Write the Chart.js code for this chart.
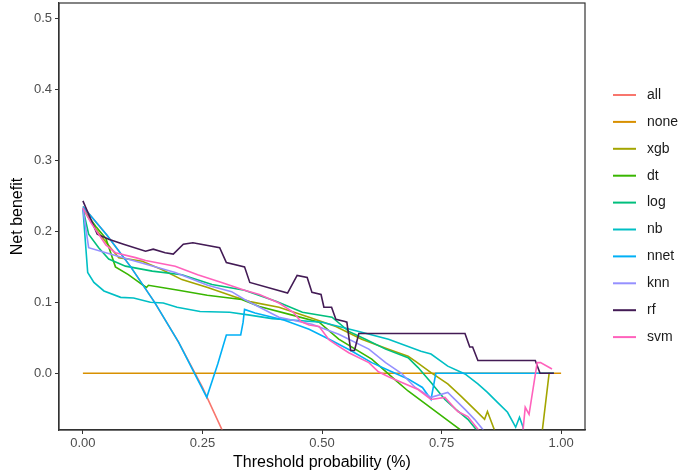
<!DOCTYPE html>
<html>
<head>
<meta charset="utf-8">
<script src="https://cdn.jsdelivr.net/npm/chart.js@4.4.1/dist/chart.umd.min.js"></script>
<style>
body{margin:0;background:#fff;}
canvas{display:block;}
</style>
</head>
<body>
<canvas id="dca" width="686" height="476"></canvas>
<script>

// series names and colours
const models = ["all","none","xgb","dt","log","nb","nnet","knn","rf","svm"];
const colors = ["#F8766D","#D89000","#A3A500","#39B600","#00BF7D","#00BFC4","#00B0F6","#9590FF","#431B55","#FF62BC"];

// tick labels
const xTicks = [0,0.25,0.5,0.75,1];
const yTicks = [0,0.1,0.2,0.3,0.4,0.5];

// [threshold, net benefit]
const all = [[0,0.235],[0.05,0.195],[0.1,0.15],[0.15,0.1],[0.2,0.044],[0.25,-0.02],[0.3,-0.093]];
const none = [[0,0],[1,0]];
const xgb = [[0,0.232],[0.027,0.203],[0.048,0.185],[0.075,0.163],[0.124,0.158],[0.166,0.146],[0.207,0.132],[0.261,0.121],[0.317,0.108],[0.349,0.101],[0.41,0.093],[0.473,0.079],[0.529,0.066],[0.583,0.048],[0.639,0.034],[0.68,0.024],[0.695,0.017],[0.728,0.001],[0.763,-0.015],[0.79,-0.032],[0.819,-0.051],[0.84,-0.065],[0.846,-0.054],[0.86,-0.079],[0.87,-0.1],[0.955,-0.1],[0.961,-0.079],[0.975,0],[0.985,0]];
const dt = [[0,0.232],[0.027,0.207],[0.048,0.19],[0.068,0.15],[0.095,0.139],[0.124,0.125],[0.133,0.121],[0.137,0.124],[0.2,0.117],[0.26,0.11],[0.332,0.104],[0.369,0.094],[0.432,0.083],[0.494,0.072],[0.535,0.048],[0.604,0.02],[0.656,-0.011],[0.68,-0.025],[0.72,-0.045],[0.76,-0.065],[0.79,-0.08],[0.8,-0.1]];
const log = [[0,0.232],[0.012,0.196],[0.033,0.177],[0.054,0.161],[0.089,0.151],[0.145,0.144],[0.207,0.139],[0.27,0.125],[0.338,0.117],[0.405,0.101],[0.459,0.086],[0.521,0.079],[0.556,0.059],[0.591,0.048],[0.633,0.034],[0.68,0.022],[0.701,0.008],[0.728,-0.013],[0.757,-0.037],[0.78,-0.051],[0.805,-0.065],[0.822,-0.079],[0.84,-0.1]];
const nb = [[0,0.232],[0.01,0.142],[0.023,0.128],[0.044,0.116],[0.079,0.107],[0.106,0.106],[0.141,0.1],[0.168,0.099],[0.197,0.093],[0.245,0.087],[0.307,0.086],[0.349,0.082],[0.396,0.077],[0.5,0.072],[0.577,0.059],[0.639,0.048],[0.707,0.031],[0.728,0.027],[0.763,0.01],[0.799,-0.001],[0.826,-0.015],[0.846,-0.027],[0.867,-0.041],[0.888,-0.055],[0.905,-0.076],[0.913,-0.062],[0.92,-0.075],[0.928,-0.1]];
const nnet = [[0,0.235],[0.05,0.195],[0.1,0.15],[0.15,0.1],[0.2,0.044],[0.259,-0.034],[0.282,0.013],[0.293,0.038],[0.3,0.054],[0.33,0.054],[0.335,0.072],[0.338,0.09],[0.36,0.085],[0.42,0.075],[0.473,0.062],[0.515,0.048],[0.56,0.032],[0.604,0.015],[0.64,0.004],[0.68,-0.008],[0.71,-0.02],[0.728,-0.037],[0.738,0],[0.985,0]];
const knn = [[0,0.232],[0.012,0.177],[0.048,0.17],[0.11,0.158],[0.193,0.142],[0.261,0.124],[0.311,0.115],[0.338,0.104],[0.41,0.079],[0.479,0.069],[0.535,0.055],[0.598,0.034],[0.633,0.015],[0.666,0],[0.695,-0.02],[0.728,-0.034],[0.763,-0.027],[0.799,-0.051],[0.819,-0.065],[0.836,-0.079],[0.85,-0.1]];
const rf = [[0,0.243],[0.03,0.196],[0.054,0.189],[0.085,0.182],[0.131,0.172],[0.147,0.175],[0.172,0.17],[0.189,0.168],[0.21,0.182],[0.23,0.184],[0.286,0.177],[0.3,0.156],[0.338,0.15],[0.349,0.128],[0.428,0.113],[0.448,0.138],[0.469,0.135],[0.479,0.114],[0.498,0.111],[0.504,0.093],[0.52,0.093],[0.529,0.076],[0.548,0.073],[0.552,0.072],[0.56,0.032],[0.568,0.032],[0.577,0.056],[0.799,0.056],[0.809,0.037],[0.815,0.037],[0.826,0.018],[0.946,0.018],[0.956,0],[0.985,0]];
const svm = [[0,0.233],[0.017,0.212],[0.048,0.181],[0.068,0.17],[0.11,0.163],[0.131,0.159],[0.193,0.151],[0.24,0.139],[0.29,0.128],[0.338,0.117],[0.369,0.111],[0.41,0.099],[0.44,0.086],[0.456,0.073],[0.473,0.068],[0.494,0.066],[0.515,0.047],[0.535,0.038],[0.556,0.029],[0.598,0.015],[0.618,0.002],[0.639,-0.005],[0.701,-0.023],[0.728,-0.037],[0.757,-0.034],[0.784,-0.054],[0.805,-0.061],[0.826,-0.079],[0.84,-0.095],[0.87,-0.085],[0.88,-0.1],[0.919,-0.09],[0.925,-0.048],[0.933,-0.058],[0.95,0.015],[0.957,0.015],[0.981,0.006]];

const series = [all,none,xgb,dt,log,nb,nnet,knn,rf,svm];

const datasets = series.map((s,i) => ({
label: models[i],
data: s.map(p => ({x:p[0], y:p[1]})),
borderColor: colors[i],
backgroundColor: colors[i],
borderWidth: 1.6,
pointRadius: 0,
tension: 0,
order: -i
}));

// ggplot style legend at the right
const sideLegend = {
id: "sideLegend",
afterDraw(chart){
const ctx = chart.ctx;
ctx.save();
ctx.font = "14px 'Liberation Sans', Arial, sans-serif";
ctx.textBaseline = "middle";
chart.data.datasets.forEach((d,i) => {
let y = 95 + i*26.9;
ctx.strokeStyle = d.borderColor;
ctx.lineWidth = 2;
ctx.beginPath();
ctx.moveTo(613,y);
ctx.lineTo(636,y);
ctx.stroke();
ctx.fillStyle = "#1a1a1a";
ctx.fillText(d.label,647,y);
});
ctx.restore();
}
};

// panel border
const panelBox = {
id: "panelBox",
afterDraw(chart){
const a = chart.chartArea;
const ctx = chart.ctx;
ctx.save();
ctx.strokeStyle = "#333333";
ctx.lineWidth = 1.2;
ctx.strokeRect(a.left, a.top, a.right-a.left, a.bottom-a.top);
ctx.restore();
}
};

const tickFont = {family:"'Liberation Sans', Arial, sans-serif", size:13};
const titleFont = {family:"'Liberation Sans', Arial, sans-serif", size:16};

new Chart(document.getElementById("dca"),{
type: "line",
data: {datasets: datasets},
options: {
responsive: false,
animation: false,
devicePixelRatio: 1,
layout: {padding: {top:3, right:101, left:0, bottom:0}},
plugins: {legend: {display:false}, tooltip: {enabled:false}},
scales: {
x: {
type: "linear",
min: -0.05,
max: 1.05,
afterBuildTicks: s => { s.ticks = xTicks.map(v => ({value:v})); },
afterFit: s => { s.height = 46; s.paddingLeft = 0; s.paddingRight = 0; },
ticks: {font: tickFont, color:"#4D4D4D", padding:2, maxRotation:0, callback: v => v.toFixed(2)},
grid: {drawOnChartArea:false, tickLength:4, tickColor:"#333333"},
border: {display:true, color:"#333333", width:1.2},
title: {display:true, text:"Threshold probability (%)", font: titleFont, color:"#000", padding:{top:0,bottom:4}}
},
y: {
min: -0.08,
max: 0.522,
afterBuildTicks: s => { s.ticks = yTicks.map(v => ({value:v})); },
afterFit: s => { s.width = 59; s.paddingTop = 0; s.paddingBottom = 0; },
ticks: {font: tickFont, color:"#4D4D4D", padding:3, callback: v => v.toFixed(1)},
grid: {drawOnChartArea:false, tickLength:4, tickColor:"#333333"},
border: {display:true, color:"#333333", width:1.2},
title: {display:true, text:"Net benefit", font: titleFont, color:"#000", padding:{top:8,bottom:0}}
}
}
},
plugins: [sideLegend, panelBox]
});
</script>
</body>
</html>
